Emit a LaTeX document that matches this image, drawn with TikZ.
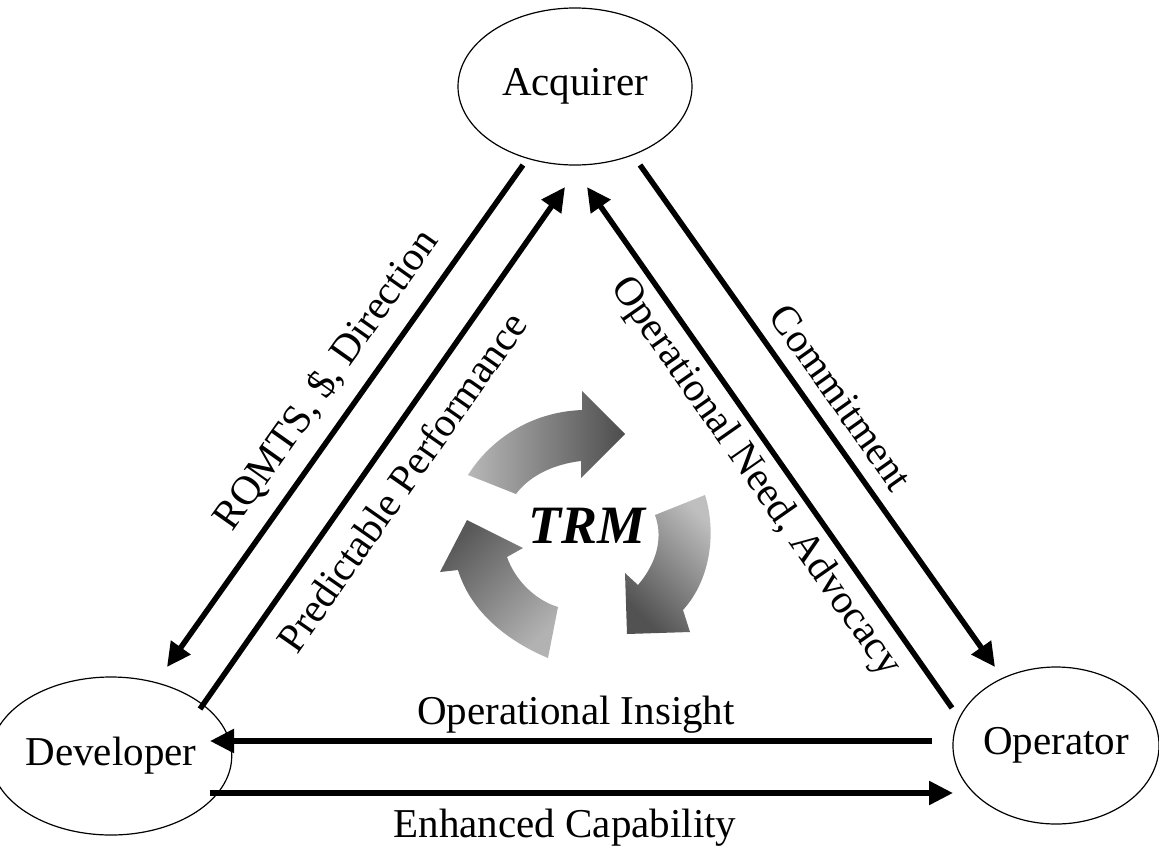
\documentclass[tikz,border=0pt]{standalone}
\usepackage{fontspec}
\setmainfont{Liberation Serif}
\usetikzlibrary{shapes.geometric,arrows.meta,calc}
\begin{document}
\begin{tikzpicture}[x=1pt,y=-1pt,
  actor/.style={ellipse,draw,line width=1.2pt,inner sep=0pt,font=\fontsize{41}{49}\selectfont},
  flow/.style={line width=5.5pt,-{Triangle[length=24pt,width=23pt]}},
  lbl/.style={font=\fontsize{41}{49}\selectfont,anchor=base,inner sep=0pt},
  cyc/.style={draw=none}]
\useasboundingbox (0,0) rectangle (1159,849);

% actors
\node[actor,minimum width=234pt,minimum height=157pt] (acq) at (575,86.5) {Acquirer};
\node[actor,minimum width=198pt,minimum height=158pt] (dev) at (111,756) {Developer};
\node[actor,minimum width=206pt,minimum height=157pt] (op) at (1056,745.5) {Operator};

% connectors
\draw[flow] ($(acq)+(-52,78.5)$) -- ($(dev)+(56,-89)$);
\draw[flow] ($(dev)+(89,-47)$) -- ($(acq)+(-10,100.5)$);
\draw[flow] ($(acq)+(65,78.5)$) -- ($(op)+(-61,-78.5)$);
\draw[flow] ($(op)+(-104,-37.5)$) -- ($(acq)+(12,100.5)$);
\draw[flow] ($(op)+(-124,-4.5)$) -- ($(dev)+(99,-15)$);
\draw[flow] ($(dev)+(99,37)$) -- ($(op)+(-103,47.5)$);

% labels
\node[lbl,rotate=54.7] (l1) at (336,387) {RQMTS, \$, Direction};
\node[lbl,rotate=55] (l2) at (413,490) {Predictable Performance};
\node[lbl,rotate=-54.7] (l3) at (830,405) {Commitment};
\node[lbl,rotate=-55] (l4) at (747,483) {Operational Need, Advocacy};
\node[lbl] (l5) at (576,724) {Operational Insight};
\node[lbl] (l6) at (565,837) {Enhanced Capability};

% TRM cycle
\shade[cyc,left color=black!28,right color=black!70]
  (468,475) .. controls (490,440) and (530,412) .. (582,410) -- (582,391) -- (625,434)
  -- (581,478) -- (581,461) .. controls (555,464) and (530,475) .. (516,494) -- cycle;
\shade[cyc,top color=black!25,bottom color=black!68,shading angle=-45]
  (705,495) .. controls (716,530) and (712,578) .. (683,610) -- (690,632) -- (627,634)
  -- (625,573) -- (638,585) .. controls (655,565) and (664,540) .. (655,515) -- cycle;
\shade[cyc,top color=black!65,bottom color=black!30,shading angle=45]
  (548,658) .. controls (505,640) and (470,610) .. (458,570) -- (440,572) -- (467,520)
  -- (523,548) -- (507,557) .. controls (515,580) and (535,600) .. (558,607) -- cycle;
\node[font=\fontsize{54}{60}\selectfont\bfseries\itshape,anchor=base,inner sep=0pt] (trm) at (587,543) {TRM};
\end{tikzpicture}
\end{document}
